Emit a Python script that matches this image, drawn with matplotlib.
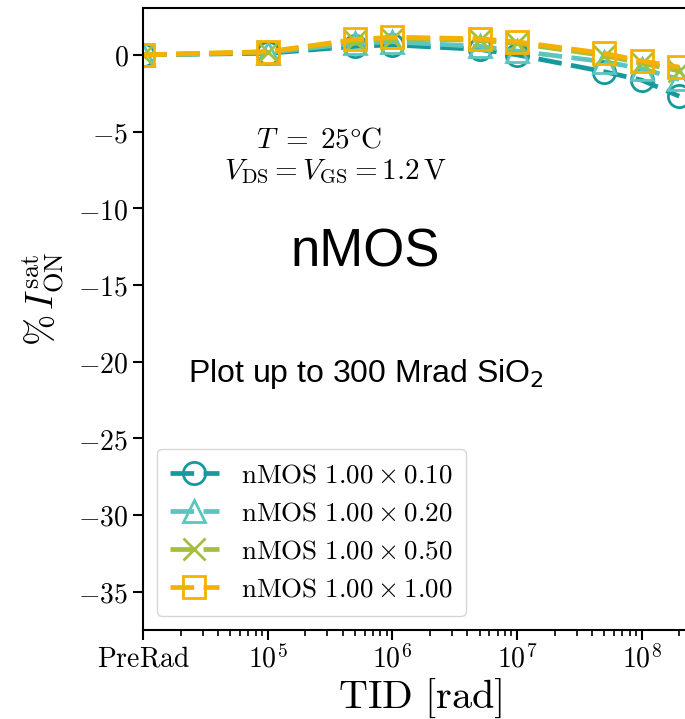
import matplotlib
matplotlib.use("Agg")
import matplotlib.pyplot as plt
from matplotlib.ticker import LogLocator, NullFormatter

plt.rcParams['mathtext.fontset'] = 'cm'
plt.rcParams['axes.unicode_minus'] = True

# TID points; PreRad is drawn at 1e4
tid = [1e4, 1e5, 5e5, 1e6, 5e6, 1e7, 5e7, 1e8, 2e8]
ion_010 = [0.0, 0.10, 0.55, 0.65, 0.35, 0.00, -1.10, -1.65, -2.70]
ion_020 = [0.0, 0.15, 0.75, 0.85, 0.55, 0.25, -0.45, -0.90, -1.60]
ion_050 = [0.0, 0.20, 0.90, 1.05, 0.95, 0.75, -0.05, -0.55, -1.05]
ion_100 = [0.0, 0.20, 1.00, 1.15, 1.05, 0.85, 0.10, -0.40, -0.80]

labels = [r'$\mathrm{nMOS}\ 1.00 \times 0.10$',
          r'$\mathrm{nMOS}\ 1.00 \times 0.20$',
          r'$\mathrm{nMOS}\ 1.00 \times 0.50$',
          r'$\mathrm{nMOS}\ 1.00 \times 1.00$']
markers = ['o', '^', 'x', 's']
colors = ['#16999b', '#5cc5bf', '#a3c03c', '#f6b100']

xticks = [1e4, 1e5, 1e6, 1e7, 1e8]
xticklabels = [r'$\mathrm{PreRad}$', r'$10^5$', r'$10^6$', r'$10^7$', r'$10^8$']
yticks = [0, -5, -10, -15, -20, -25, -30, -35]

fig = plt.figure(figsize=(6.85, 7.19), dpi=100)
# axes run past the right edge of the figure (the picture is cropped)
ax = fig.add_axes([0.2088, 0.1238, 0.910, 0.865])

for y, lab, m, c in zip([ion_010, ion_020, ion_050, ion_100], labels, markers, colors):
    ax.plot(tid, y, linestyle='--', dashes=(5, 2), lw=3.4, color=c,
            marker=m, markersize=16, markerfacecolor='none',
            markeredgewidth=2.0, markeredgecolor=c, label=lab)

ax.set_xscale('log')
ax.set_xlim(1e4, 1e9)
ax.set_ylim(-37.5, 3.05)
ax.set_xticks(xticks)
ax.set_xticklabels(xticklabels)
ax.xaxis.set_minor_locator(LogLocator(base=10, subs=range(2, 10), numticks=20))
ax.xaxis.set_minor_formatter(NullFormatter())
ax.set_yticks(yticks)
ax.set_yticklabels([r'$%d$' % v if v == 0 else r'$-%d$' % -v for v in yticks])

ax.tick_params(axis='both', which='major', labelsize=20, length=7, width=1.5)
ax.tick_params(axis='x', which='minor', length=4, width=1.2)
for s in ax.spines.values():
    s.set_linewidth(1.5)

ax.set_xlabel(r'$\mathrm{TID}\ [\mathrm{rad}]$', fontsize=29)
ax.xaxis.set_label_coords(0.444, -0.075)
ax.set_ylabel(r'$\%\,I_{\mathrm{ON}}^{\mathrm{sat}}$', fontsize=27)
ax.yaxis.set_label_coords(-0.122, 0.532)

ax.text(2.6e5, -5.5, r'$T\;=\;25\degree\mathrm{C}$', fontsize=21,
        ha='center', va='center')
ax.text(3.5e5, -7.6, r'$V_{\mathrm{DS}} = V_{\mathrm{GS}} = 1.2\,\mathrm{V}$', fontsize=21,
        ha='center', va='center')
ax.text(6.1e5, -12.9, 'nMOS', fontsize=38, family='Liberation Sans',
        ha='center', va='center')
ax.text(2.3e4, -20.8, r'Plot up to 300 Mrad SiO$_2$', fontsize=23,
        family='Liberation Sans', math_fontfamily='dejavusans',
        ha='left', va='center')

leg = ax.legend(loc='lower left', fontsize=19.5, handlelength=1.8,
                handletextpad=0.8, labelspacing=0.45, borderpad=0.5,
                fancybox=True, framealpha=0.8)

fig.savefig('out.png', dpi=100)
